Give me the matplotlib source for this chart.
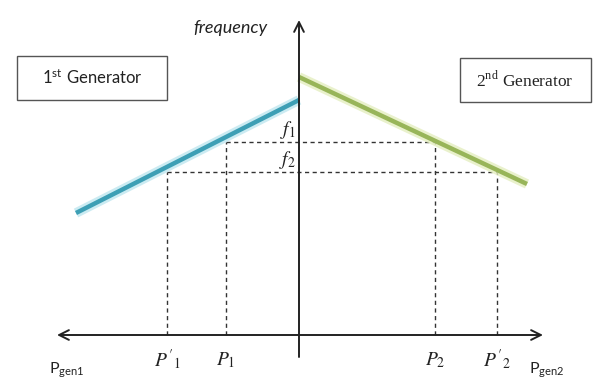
import matplotlib
matplotlib.use("Agg")
import matplotlib.pyplot as plt
from matplotlib.patches import Rectangle

plt.rcParams["mathtext.fontset"] = "stix"

# droop characteristics (power on x, frequency on y; origin at axis crossing)
gen1_p = [-223, 0]
gen1_f = [122, 235]
gen2_p = [0, 228]
gen2_f = [258, 151]

# operating frequencies and shared powers
f_levels = [193, 163]
f_labels = [r"$f_1$", r"$f_2$"]
p_gen1 = [-73, -132]
p_gen2 = [136, 198]
p_gen1_labels = [r"$P_1$", r"$P'_1$"]
p_gen2_labels = [r"$P_2$", r"$P'_2$"]

fig = plt.figure(figsize=(5.97, 3.79), dpi=100)
ax = fig.add_axes([0, 0, 1, 1])
ax.set_xlim(-299, 298)
ax.set_ylim(-44, 335)
ax.axis("off")

# axes with arrows
ax.annotate("", xy=(-242, 0), xytext=(244, 0),
            arrowprops=dict(arrowstyle="<->,head_length=0.7,head_width=0.35",
                            lw=1.4, color="#222222", shrinkA=0, shrinkB=0))
ax.annotate("", xy=(0, 315), xytext=(0, -22),
            arrowprops=dict(arrowstyle="->,head_length=0.7,head_width=0.35",
                            lw=1.4, color="#222222", shrinkA=0, shrinkB=0))

# dashed guides
dash = dict(color="#333333", lw=1.0, ls=(0, (3, 2.5)))
for f, pa, pb in zip(f_levels, p_gen1, p_gen2):
    ax.plot([pa, pb], [f, f], **dash)
    ax.plot([pa, pa], [0, f], **dash)
    ax.plot([pb, pb], [0, f], **dash)

# droop lines with a soft glow
ax.plot(gen1_p, gen1_f, color="#bfe6ef", lw=7, solid_capstyle="butt", alpha=0.8)
ax.plot(gen1_p, gen1_f, color="#3d9fb5", lw=3.2, solid_capstyle="butt")
ax.plot(gen2_p, gen2_f, color="#e4eec0", lw=7, solid_capstyle="butt", alpha=0.8)
ax.plot(gen2_p, gen2_f, color="#98b559", lw=3.2, solid_capstyle="butt")

# frequency labels
for f, lab in zip(f_levels, f_labels):
    ax.text(-3, f + 1, lab, fontsize=14, ha="right", va="bottom", color="#222222")

# power labels
for p, lab in zip(p_gen1 + p_gen2, p_gen1_labels + p_gen2_labels):
    ax.text(p, -25, lab, fontsize=14, ha="center", va="center", color="#222222")

ax.text(-232, -35, r"P$_{\mathregular{gen1}}$", fontsize=11.5, family="Lato",
        ha="center", va="center", color="#222222")
ax.text(248, -35, r"P$_{\mathregular{gen2}}$", fontsize=11.5, family="Lato",
        ha="center", va="center", color="#222222")

ax.text(-69, 307, "frequency", fontsize=13, family="Lato", style="italic",
        ha="center", va="center", color="#222222")

# generator boxes
ax.add_patch(Rectangle((-282, 235), 150, 44, fc="white", ec="#555555", lw=1.0))
ax.text(-207, 257, r"1$^{\mathregular{st}}$ Generator", fontsize=12, family="Lato",
        ha="center", va="center", color="#222222")
ax.add_patch(Rectangle((161, 233), 131, 44, fc="white", ec="#555555", lw=1.0))
ax.text(226, 255, r"2$^{\mathregular{nd}}$ Generator", fontsize=12.5,
        family="Liberation Serif", ha="center", va="center", color="#222222")

fig.savefig("out.png", dpi=100)
